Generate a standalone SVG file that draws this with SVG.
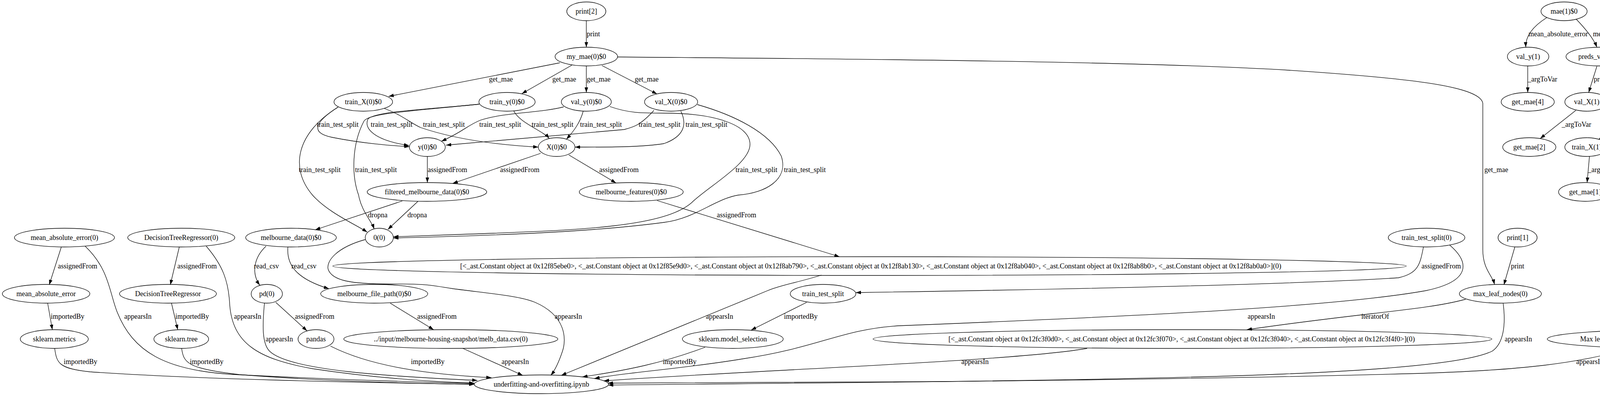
<svg xmlns="http://www.w3.org/2000/svg" width="4762" height="1015" viewBox="0 0 4762 1015">
<style>
text{font-family:"Liberation Serif","Times New Roman",serif;font-size:18px;fill:#000}
.n ellipse{fill:none;stroke:#000;stroke-width:1.3}
.n text{text-anchor:middle}
#edges path{fill:none;stroke:#000;stroke-width:1.3;marker-end:url(#a)}
</style>
<defs>
<marker id="a" viewBox="0 0 13 9" refX="13" refY="4.5" markerWidth="13" markerHeight="9" markerUnits="userSpaceOnUse" orient="auto"><path d="M0,0 L13,4.5 L0,9 z" fill="#000"/></marker>
</defs>
<rect width="4762" height="1015" fill="#fff"/>
<g id="edges">
<g><path d="M1501,53 L1501,121"/><text x="1502" y="93">print</text></g>
<g><path d="M1433,161 L995,247"/><text x="1252" y="209">get_mae</text></g>
<g><path d="M1464,167 L1336,240"/><text x="1414" y="209">get_mae</text></g>
<g><path d="M1501,169 L1501,237"/><text x="1502" y="209">get_mae</text></g>
<g><path d="M1541,168 L1682,241"/><text x="1625" y="209">get_mae</text></g>
<g><path d="M1581,146 C2000,150 2900,155 3300,180 C3600,200 3790,220 3796,265 L3796,640 C3796,690 3820,705 3826,729"/><text x="3800" y="441">get_mae</text></g>
<g><path d="M866,274 C810,310 790,340 850,352 C930,368 1000,373 1048,376"/><text x="811" y="325">train_test_split</text></g>
<g><path d="M984,278 C1030,295 1050,315 1077,327 C1150,352 1250,370 1378,377"/><text x="1083" y="325">train_test_split</text></g>
<g><path d="M865,275 C760,340 740,430 800,500 C840,545 910,575 940,595"/><text x="765" y="441">train_test_split</text></g>
<g><path d="M1227,267 C1100,280 960,285 942,305 C930,330 960,360 1047,373"/><text x="949" y="325">train_test_split</text></g>
<g><path d="M1315,284 C1330,315 1390,335 1406,355"/><text x="1361" y="325">train_test_split</text></g>
<g><path d="M1227,267 C1050,285 945,290 932,310 C900,370 900,450 918,500 C925,540 950,565 958,587"/><text x="909" y="441">train_test_split</text></g>
<g><path d="M1443,274 C1380,290 1290,288 1230,308 C1195,322 1185,338 1130,362"/><text x="1227" y="325">train_test_split</text></g>
<g><path d="M1493,285 C1485,315 1468,337 1450,357"/><text x="1485" y="325">train_test_split</text></g>
<g><path d="M1561,273 C1610,290 1640,290 1700,290 C1830,290 1920,320 1920,370 C1920,420 1810,480 1770,520 C1700,580 1500,590 1200,600 L1007,607"/><text x="1883" y="441">train_test_split</text></g>
<g><path d="M1674,283 C1640,320 1625,325 1598,332 L1142,372"/><text x="1635" y="325">train_test_split</text></g>
<g><path d="M1743,285 C1760,320 1750,350 1700,368 C1640,378 1540,377 1472,377"/><text x="1755" y="325">train_test_split</text></g>
<g><path d="M1785,268 C1880,295 1970,340 2000,400 C2020,460 1960,495 1890,500 C1830,510 1780,560 1700,570 C1550,590 1350,602 1007,610"/><text x="2007" y="441">train_test_split</text></g>
<g><path d="M1094,401 L1094,468"/><text x="1095" y="441">assignedFrom</text></g>
<g><path d="M1384,393 L1159,470"/><text x="1280" y="441">assignedFrom</text></g>
<g><path d="M1456,397 L1577,469"/><text x="1534" y="441">assignedFrom</text></g>
<g><path d="M1030,515 L807,589"/><text x="942" y="557">dropna</text></g>
<g><path d="M1070,516 L993,588"/><text x="1043" y="557">dropna</text></g>
<g><path d="M1682,514 L2149,658"/><text x="1835" y="557">assignedFrom</text></g>
<g><path d="M681,631 C650,660 643,700 665,731"/><text x="650" y="688">read_csv</text></g>
<g><path d="M737,633 C733,680 760,715 842,740"/><text x="746" y="688">read_csv</text></g>
<g><path d="M157,633 L126,730"/><text x="148" y="688">assignedFrom</text></g>
<g><path d="M218,631 C280,690 280,750 300,800 C340,900 420,950 600,960 C900,975 1100,980 1214,983"/><text x="318" y="817">appearsIn</text></g>
<g><path d="M459,633 L436,730"/><text x="454" y="688">assignedFrom</text></g>
<g><path d="M528,631 C570,680 585,720 588,780 C595,880 660,920 800,945 C950,968 1100,978 1214,982"/><text x="599" y="817">appearsIn</text></g>
<g><path d="M122,777 L134,845"/><text x="130" y="817">importedBy</text></g>
<g><path d="M439,777 L455,845"/><text x="449" y="817">importedBy</text></g>
<g><path d="M140,893 C145,930 150,945 230,953 C500,972 900,980 1214,985"/><text x="163" y="933">importedBy</text></g>
<g><path d="M465,893 C470,930 480,945 612,960 C800,975 1000,982 1214,985"/><text x="486" y="933">importedBy</text></g>
<g><path d="M706,775 L786,848"/><text x="755" y="817">assignedFrom</text></g>
<g><path d="M677,777 C672,830 670,880 690,900 C740,950 1000,965 1222,975"/><text x="680" y="875">appearsIn</text></g>
<g><path d="M846,887 C950,940 1100,960 1258,968"/><text x="1052" y="933">importedBy</text></g>
<g><path d="M999,777 L1110,845"/><text x="1068" y="817">assignedFrom</text></g>
<g><path d="M1185,893 L1338,962"/><text x="1284" y="933">appearsIn</text></g>
<g><path d="M935,614 C860,635 835,670 840,690 C850,720 900,728 1000,728 C1080,727 1100,730 1160,740 C1250,752 1330,758 1370,775 C1450,810 1450,870 1440,900 C1430,930 1420,950 1410,962"/><text x="1420" y="817">appearsIn</text></g>
<g><path d="M2103,705 C2040,725 2000,730 1965,745 L1437,962"/><text x="1807" y="817">appearsIn</text></g>
<g><path d="M3644,633 C3635,680 3630,700 3580,712 C3300,730 2700,742 2191,750"/><text x="3639" y="688">assignedFrom</text></g>
<g><path d="M3711,628 C3760,670 3770,720 3650,745 C3400,790 2800,815 2300,835 C2150,845 2100,890 1900,920 C1750,945 1600,955 1522,970"/><text x="3194" y="817">appearsIn</text></g>
<g><path d="M2065,775 L1923,846"/><text x="2007" y="817">importedBy</text></g>
<g><path d="M1805,890 C1700,930 1600,950 1491,966"/><text x="1697" y="933">importedBy</text></g>
<g><path d="M3878,633 L3850,730"/><text x="3868" y="688">print</text></g>
<g><path d="M3752,767 C3650,795 3500,800 3192,845"/><text x="3485" y="817">iteratorOf</text></g>
<g><path d="M3848,777 C3855,830 3850,880 3820,900 C3700,960 3000,970 2400,978 L1556,982"/><text x="3852" y="875">appearsIn</text></g>
<g><path d="M2783,893 C2600,925 2000,945 1546,976"/><text x="2461" y="933">appearsIn</text></g>
<g><path d="M4275,777 L4275,845"/><text x="4275" y="817">print</text></g>
<g><path d="M4174,892 C4050,930 3900,950 3600,958 C3000,975 2000,982 1557,987"/><text x="4035" y="933">appearsIn</text></g>
<g><path d="M3960,45 C3920,70 3905,95 3906,121"/><text x="3913" y="93">mean_absolute_error</text></g>
<g><path d="M4035,49 C4060,75 4080,100 4088,121"/><text x="4078" y="93">mean_absolute_error</text></g>
<g><path d="M3911,169 L3911,237"/><text x="3911" y="209">_argToVar</text></g>
<g><path d="M4088,170 L4067,237"/><text x="4080" y="209">predict</text></g>
<g><path d="M4120,168 L4195,238"/><text x="4161" y="209">predict</text></g>
<g><path d="M4034,283 L3943,355"/><text x="3998" y="325">_argToVar</text></g>
<g><path d="M4188,284 L4093,357"/><text x="4152" y="325">fit</text></g>
<g><path d="M4217,285 L4221,353"/><text x="4219" y="325">fit</text></g>
<g><path d="M4248,283 L4370,356"/><text x="4319" y="325">fit</text></g>
<g><path d="M4069,401 L4063,468"/><text x="4065" y="441">_argToVar</text></g>
<g><path d="M4221,401 L4222,468"/><text x="4221" y="441">_argToVar</text></g>
<g><path d="M4402,401 L4408,468"/><text x="4404" y="441">DecisionTreeRegressor</text></g>
<g><path d="M4471,383 C4540,400 4585,430 4596,469"/><text x="4588" y="441">DecisionTreeRegressor</text></g>
<g><path d="M4420,516 L4420,585"/><text x="4421" y="557">_argToVar</text></g>
</g>
<g id="n_print2" class="n"><ellipse cx="1501" cy="29" rx="50" ry="24"/><text x="1501" y="35">print[2]</text></g>
<g id="n_my_mae" class="n"><ellipse cx="1501" cy="145" rx="80" ry="24"/><text x="1501" y="151">my_mae(0)$0</text></g>
<g id="n_train_X0" class="n"><ellipse cx="930" cy="261" rx="75" ry="24"/><text x="930" y="267">train_X(0)$0</text></g>
<g id="n_train_y0" class="n"><ellipse cx="1298" cy="261" rx="72" ry="24"/><text x="1298" y="267">train_y(0)$0</text></g>
<g id="n_val_y0" class="n"><ellipse cx="1501" cy="261" rx="64" ry="24"/><text x="1501" y="267">val_y(0)$0</text></g>
<g id="n_val_X0" class="n"><ellipse cx="1718" cy="261" rx="68" ry="24"/><text x="1718" y="267">val_X(0)$0</text></g>
<g id="n_y0" class="n"><ellipse cx="1094" cy="377" rx="46" ry="24"/><text x="1094" y="383">y(0)$0</text></g>
<g id="n_X0" class="n"><ellipse cx="1425" cy="377" rx="47" ry="24"/><text x="1425" y="383">X(0)$0</text></g>
<g id="n_filtered" class="n"><ellipse cx="1093" cy="492" rx="153" ry="24"/><text x="1093" y="498">filtered_melbourne_data(0)$0</text></g>
<g id="n_mfeat" class="n"><ellipse cx="1616" cy="492" rx="133" ry="24"/><text x="1616" y="498">melbourne_features(0)$0</text></g>
<g id="n_mae_err0" class="n"><ellipse cx="165" cy="609" rx="128" ry="24"/><text x="165" y="615">mean_absolute_error(0)</text></g>
<g id="n_dtr0" class="n"><ellipse cx="464" cy="609" rx="137" ry="24"/><text x="464" y="615">DecisionTreeRegressor(0)</text></g>
<g id="n_mdata" class="n"><ellipse cx="745" cy="609" rx="116" ry="24"/><text x="745" y="615">melbourne_data(0)$0</text></g>
<g id="n_zero0" class="n"><ellipse cx="971" cy="609" rx="36" ry="24"/><text x="971" y="615">0(0)</text></g>
<g id="n_list1" class="n"><ellipse cx="2226" cy="682" rx="1374" ry="24"/><text x="2229" y="688" textLength="2102" lengthAdjust="spacingAndGlyphs">[&lt;_ast.Constant object at 0x12f85ebe0&gt;, &lt;_ast.Constant object at 0x12f85e9d0&gt;, &lt;_ast.Constant object at 0x12f8ab790&gt;, &lt;_ast.Constant object at 0x12f8ab130&gt;, &lt;_ast.Constant object at 0x12f8ab040&gt;, &lt;_ast.Constant object at 0x12f8ab8b0&gt;, &lt;_ast.Constant object at 0x12f8ab0a0&gt;](0)</text></g>
<g id="n_mae_err" class="n"><ellipse cx="118" cy="753" rx="112" ry="24"/><text x="118" y="759">mean_absolute_error</text></g>
<g id="n_dtr" class="n"><ellipse cx="430" cy="753" rx="124" ry="24"/><text x="430" y="759">DecisionTreeRegressor</text></g>
<g id="n_pd0" class="n"><ellipse cx="683" cy="753" rx="40" ry="24"/><text x="683" y="759">pd(0)</text></g>
<g id="n_mfp" class="n"><ellipse cx="958" cy="753" rx="137" ry="24"/><text x="958" y="759">melbourne_file_path(0)$0</text></g>
<g id="n_tts" class="n"><ellipse cx="2107" cy="753" rx="84" ry="24"/><text x="2107" y="759">train_test_split</text></g>
<g id="n_skm" class="n"><ellipse cx="139" cy="869" rx="87" ry="24"/><text x="139" y="875">sklearn.metrics</text></g>
<g id="n_skt" class="n"><ellipse cx="464" cy="869" rx="70" ry="24"/><text x="464" y="875">sklearn.tree</text></g>
<g id="n_pandas" class="n"><ellipse cx="809" cy="869" rx="46" ry="24"/><text x="809" y="875">pandas</text></g>
<g id="n_input" class="n"><ellipse cx="1154" cy="869" rx="274" ry="24"/><text x="1154" y="875" textLength="394" lengthAdjust="spacingAndGlyphs">../input/melbourne-housing-snapshot/melb_data.csv(0)</text></g>
<g id="n_sms" class="n"><ellipse cx="1876" cy="869" rx="129" ry="24"/><text x="1876" y="875">sklearn.model_selection</text></g>
<g id="n_list2" class="n"><ellipse cx="3027" cy="869" rx="792" ry="24"/><text x="3025" y="875" textLength="1194" lengthAdjust="spacingAndGlyphs">[&lt;_ast.Constant object at 0x12fc3f0d0&gt;, &lt;_ast.Constant object at 0x12fc3f070&gt;, &lt;_ast.Constant object at 0x12fc3f040&gt;, &lt;_ast.Constant object at 0x12fc3f4f0&gt;](0)</text></g>
<g id="n_ipynb" class="n"><ellipse cx="1386" cy="985" rx="172" ry="24"/><text x="1386" y="991">underfitting-and-overfitting.ipynb</text></g>
<g id="n_tts0" class="n"><ellipse cx="3652" cy="609" rx="98" ry="24"/><text x="3652" y="615">train_test_split(0)</text></g>
<g id="n_print1" class="n"><ellipse cx="3885" cy="609" rx="50" ry="24"/><text x="3885" y="615">print[1]</text></g>
<g id="n_mln0" class="n"><ellipse cx="3841" cy="753" rx="105" ry="24"/><text x="3841" y="759">max_leaf_nodes(0)</text></g>
<g id="n_print0" class="n"><ellipse cx="4275" cy="753" rx="50" ry="24"/><text x="4275" y="759">print[0]</text></g>
<g id="n_maxleaf" class="n"><ellipse cx="4274" cy="869" rx="313" ry="24"/><text y="875" style="text-anchor:start"><tspan x="4045">Max leaf nodes: %d</tspan><tspan x="4289">Mean Absolute Error:  %d(0)</tspan></text></g>
<g id="n_mae1" class="n"><ellipse cx="4004" cy="29" rx="59" ry="24"/><text x="4004" y="35">mae(1)$0</text></g>
<g id="n_valy1" class="n"><ellipse cx="3912" cy="145" rx="53" ry="24"/><text x="3912" y="151">val_y(1)</text></g>
<g id="n_preds" class="n"><ellipse cx="4095" cy="145" rx="86" ry="24"/><text x="4095" y="151">preds_val(1)$0</text></g>
<g id="n_gm4" class="n"><ellipse cx="3911" cy="261" rx="68" ry="24"/><text x="3911" y="267">get_mae[4]</text></g>
<g id="n_valX1" class="n"><ellipse cx="4062" cy="261" rx="56" ry="24"/><text x="4062" y="267">val_X(1)</text></g>
<g id="n_model1_1" class="n"><ellipse cx="4213" cy="261" rx="68" ry="24"/><text x="4213" y="267">model(1)$1</text></g>
<g id="n_gm2" class="n"><ellipse cx="3915" cy="377" rx="68" ry="24"/><text x="3915" y="383">get_mae[2]</text></g>
<g id="n_trX1" class="n"><ellipse cx="4062" cy="377" rx="56" ry="24"/><text x="4062" y="383">train_X(1)</text></g>
<g id="n_trY1" class="n"><ellipse cx="4225" cy="377" rx="65" ry="24"/><text x="4225" y="383">train_y(1)</text></g>
<g id="n_model1_0" class="n"><ellipse cx="4403" cy="377" rx="68" ry="24"/><text x="4403" y="383">model(1)$0</text></g>
<g id="n_gm1" class="n"><ellipse cx="4058" cy="492" rx="68" ry="24"/><text x="4058" y="498">get_mae[1]</text></g>
<g id="n_gm3" class="n"><ellipse cx="4222" cy="492" rx="68" ry="24"/><text x="4222" y="498">get_mae[3]</text></g>
<g id="n_mln1" class="n"><ellipse cx="4419" cy="492" rx="107" ry="24"/><text x="4419" y="498">max_leaf_nodes(1)</text></g>
<g id="n_zero1" class="n"><ellipse cx="4603" cy="492" rx="34" ry="24"/><text x="4603" y="498">0(1)</text></g>
<g id="n_gm0" class="n"><ellipse cx="4420" cy="609" rx="67" ry="24"/><text x="4420" y="615">get_mae[0]</text></g>
</svg>
